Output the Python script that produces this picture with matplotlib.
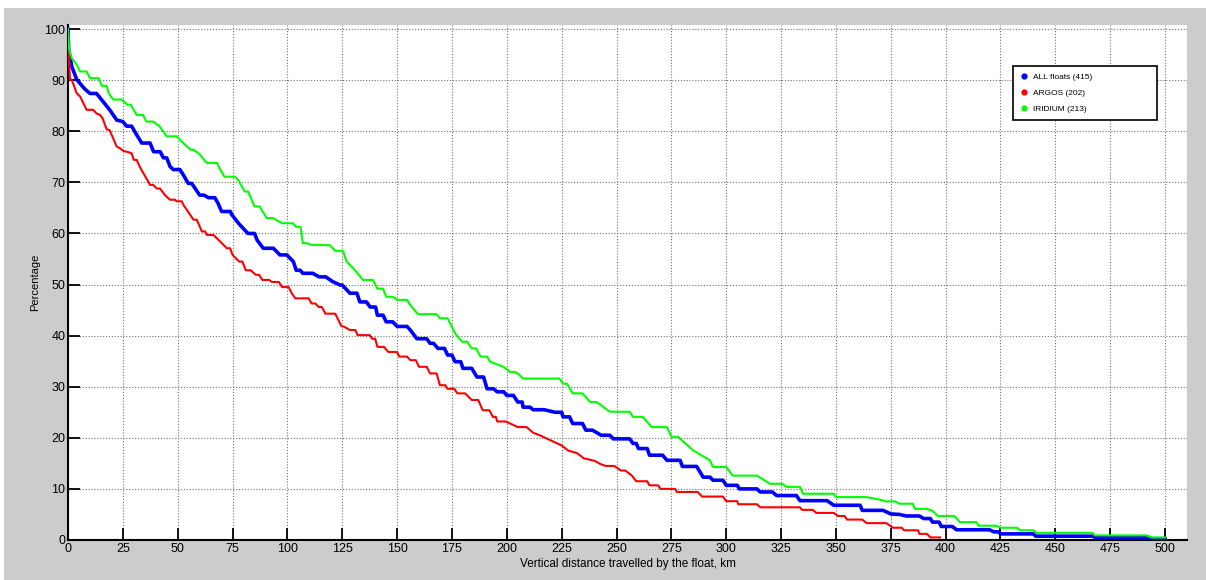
import matplotlib
matplotlib.use("Agg")
import matplotlib.pyplot as plt
from matplotlib.lines import Line2D
from matplotlib.patches import Rectangle

plt.rcParams["font.family"] = ["Liberation Sans", "DejaVu Sans"]

# ALL floats (415)
all_x = [0, 0.3, 1.7, 4, 7.6, 10, 13, 16, 19, 22.2, 25, 26.7, 29, 31.3, 33.6,
         37.4, 39, 42, 43.5, 45, 46.5, 48, 51, 52.5, 54.8, 56.4, 60, 62, 64,
         66.9, 68.4, 70, 74, 74.6, 77.7, 82, 85, 86.2, 89, 93.6, 96.6, 99.7,
         102.7, 104, 105.8, 107, 111.5, 114.5, 117.5, 120.5, 124, 125, 128.5,
         131.7, 133, 136, 137.7, 140.2, 141, 143.6, 145, 148, 150, 154.5, 156,
         159, 163.5, 165, 166.6, 168.6, 171.6, 173, 175, 176.4, 179, 180, 184,
         186.4, 189.4, 191, 194, 195.6, 198.6, 200, 203, 205, 207, 207.4,
         210.6, 212, 217, 222, 225, 225.6, 228.6, 230, 234.5, 236, 239, 243,
         247, 248.5, 256, 257.5, 259, 260, 264, 265, 271, 273, 279, 280, 286.5,
         289.5, 292.6, 294, 298.5, 300, 305, 306, 314, 315.5, 321, 323, 332,
         333.6, 346, 349, 361, 362, 371.5, 375, 379, 382, 388, 390, 393, 394,
         397, 398, 403, 405, 420, 422, 424, 425, 440, 441, 467, 468, 493, 494,
         500]
all_y = [100, 96, 92.7, 90.1, 88.3, 87.4, 87.4, 85.8, 84.2, 82.2, 81.9, 81.0,
         81.0, 79.3, 77.7, 77.7, 76.0, 76.0, 74.8, 74.8, 73.1, 72.5, 72.5,
         71.5, 69.8, 69.8, 67.5, 67.5, 67.0, 67.0, 65.9, 64.3, 64.3, 63.7,
         62.0, 60.0, 60.0, 58.7, 57.1, 57.1, 55.8, 55.8, 54.5, 52.8, 52.8,
         52.2, 52.2, 51.5, 51.5, 50.6, 49.9, 49.9, 48.3, 48.3, 46.6, 46.6,
         45.6, 45.6, 44.0, 44.0, 42.7, 42.7, 41.8, 41.8, 41.1, 39.4, 39.4,
         38.5, 38.5, 37.5, 37.5, 36.2, 36.2, 34.9, 34.9, 33.6, 33.6, 31.9,
         31.9, 29.6, 29.6, 29.0, 29.0, 28.3, 28.3, 27.0, 27.0, 26.0, 26.0,
         25.5, 25.5, 25.0, 25.0, 24.1, 24.1, 22.8, 22.8, 21.5, 21.5, 20.5,
         20.5, 19.8, 19.8, 18.9, 18.9, 17.9, 17.9, 16.6, 16.6, 15.6, 15.6,
         14.4, 14.4, 12.3, 12.3, 11.7, 11.7, 10.7, 10.7, 10.0, 10.0, 9.4, 9.4,
         8.7, 8.7, 7.7, 7.7, 6.8, 6.8, 5.8, 5.8, 5.1, 5.0, 4.7, 4.7, 4.2, 4.2,
         3.5, 3.5, 2.65, 2.65, 2.0, 2.0, 1.6, 1.6, 1.2, 1.2, 0.75, 0.75, 0.5,
         0.5, 0.25, 0.25]

# ARGOS (202)
argos_x = [0, 0.3, 0.9, 1.7, 3.9, 5.5, 7, 8.5, 11.5, 13, 14.6, 15.8, 17.6, 19,
           21.3, 22.2, 23.6, 25, 26.7, 29, 30, 31.3, 33, 35.3, 37.4, 38.9,
           40.4, 41.9, 44.2, 46.5, 48.8, 49.5, 51.8, 52.6, 55.6, 57.2, 58.7,
           61, 62.5, 63.3, 66.3, 69.4, 72.4, 73.9, 75, 78, 79.5, 81, 83.2,
           85.6, 87.1, 88.6, 91.6, 93.1, 96.1, 97.6, 100.6, 102.1, 103.6,
           109.7, 111, 112.7, 114.3, 115.7, 117.3, 121.8, 123.3, 124.5, 126,
           128.5, 131, 132, 137.5, 138.6, 140, 141, 144, 146, 150, 151, 154.5,
           156, 158.5, 160, 163.5, 165, 168, 169.5, 172, 173, 176, 177.5, 181,
           184, 187, 189, 192, 193.7, 195, 195.6, 199.5, 205, 209, 212, 215,
           220, 225, 228, 232, 235, 240, 242.5, 245, 249, 252, 254, 257, 259,
           264, 265, 269, 270, 276.7, 277.5, 287, 289, 298.5, 300, 305, 305.5,
           314, 315.5, 333.6, 334.5, 339.5, 341, 349, 351, 354, 355, 362, 364,
           373, 376, 380, 381, 387.5, 388, 391.5, 393, 397.5]
argos_y = [100, 95, 90.1, 90.1, 87.5, 86.8, 85.5, 84.2, 84.2, 83.5, 83.2,
           82.5, 80.4, 80.2, 77.9, 77.0, 76.7, 76.2, 76.0, 75.7, 74.4, 74.4,
           72.8, 71.1, 69.5, 69.5, 68.8, 68.8, 67.5, 66.6, 66.6, 66.3, 66.3,
           65.6, 63.7, 62.7, 62.7, 60.4, 60.4, 59.7, 59.7, 58.4, 57.1, 57.1,
           55.8, 54.5, 54.5, 52.8, 52.8, 51.9, 51.9, 50.9, 50.9, 50.5, 50.5,
           49.5, 49.5, 48.2, 47.3, 47.3, 46.3, 46.3, 45.6, 45.6, 44.3, 44.3,
           43.0, 41.9, 41.7, 41.1, 41.1, 40.1, 40.1, 39.4, 39.4, 37.8, 37.8,
           36.8, 36.8, 35.9, 35.9, 35.2, 35.2, 33.9, 33.9, 32.6, 32.6, 30.3,
           30.3, 29.6, 29.6, 28.7, 28.7, 27.4, 27.4, 25.4, 25.4, 24.1, 24.1,
           23.2, 23.2, 22.1, 22.1, 21.0, 20.5, 19.5, 18.5, 17.5, 17.0, 16.0,
           15.5, 14.9, 14.5, 14.5, 13.6, 13.6, 12.6, 11.5, 11.5, 10.7, 10.7,
           10.0, 10.0, 9.4, 9.4, 8.5, 8.5, 7.6, 7.6, 7.0, 7.0, 6.4, 6.4, 5.9,
           5.9, 5.3, 5.3, 4.7, 4.7, 4.0, 4.0, 3.3, 3.3, 2.4, 2.4, 1.9, 1.9,
           1.2, 1.2, 0.5, 0.5]

# IRIDIUM (213)
iridium_x = [0, 0.5, 1.7, 4, 5.5, 8.5, 10, 14, 15.4, 17.6, 18.5, 20.6, 24.6,
             27, 28.6, 31.3, 34.2, 35.7, 38.8, 41.7, 45, 49.6, 51.6, 55.8,
             57.3, 60, 63.2, 68, 69, 71.3, 76, 77.5, 80.6, 82.1, 85, 87.3,
             90.6, 93.6, 97.5, 102.5, 104, 106, 107, 109, 110.5, 119.4, 121.7,
             125.3, 127, 130, 134.5, 139, 141, 143.6, 145, 148, 150, 154.5,
             156, 159.5, 168, 169.5, 173, 175, 176.5, 179.6, 182, 184, 186,
             188, 191, 192.4, 195.5, 198.5, 201.5, 203.7, 205, 207.4, 224,
             225.6, 227.4, 230, 234.5, 238, 241, 245, 247, 256, 257.5, 262,
             266, 273, 275, 278, 285, 292.6, 294, 300, 303, 314, 320, 325.5,
             327.5, 333.6, 335, 349, 350, 364, 370, 373, 377, 379, 385, 386,
             391.5, 394, 396.5, 404, 406.5, 414, 415, 423, 425, 432.5, 434,
             440, 441.5, 467, 468, 491.5, 494, 500]
iridium_y = [100, 96, 94.3, 93, 91.7, 91.7, 90.4, 90.4, 88.9, 88.9, 87.5,
             86.2, 86.2, 85.2, 85.2, 83.2, 83.2, 81.9, 81.9, 81.0, 79.0, 79.0,
             78.1, 76.4, 76.4, 75.5, 73.8, 73.8, 72.8, 71.1, 71.1, 70.5, 68.2,
             68.2, 65.3, 65.3, 63.0, 63.0, 62.0, 62.0, 61.3, 61.3, 58.1, 58.1,
             57.8, 57.7, 56.6, 56.6, 54.5, 53.2, 50.9, 50.9, 49.2, 49.2, 47.6,
             47.6, 47.0, 47.0, 46.0, 44.2, 44.2, 43.4, 43.4, 41.7, 40.4, 38.8,
             38.8, 37.5, 37.5, 35.9, 35.9, 34.9, 34.4, 33.9, 32.9, 32.9, 32.6,
             31.6, 31.6, 30.6, 30.6, 28.7, 28.7, 27.0, 27.0, 25.7, 25.1, 25.1,
             24.1, 24.1, 22.1, 22.1, 20.2, 20.2, 17.5, 15.6, 14.3, 14.3, 12.6,
             12.6, 11.0, 11.0, 10.4, 10.4, 9.05, 9.05, 8.4, 8.4, 7.9, 7.55,
             7.55, 7.1, 7.1, 6.1, 6.1, 5.7, 4.7, 4.7, 3.5, 3.5, 2.8, 2.8, 2.4,
             2.4, 1.9, 1.9, 1.4, 1.4, 0.9, 0.9, 0.5, 0.5]

series_labels = ["ALL floats (415)", "ARGOS (202)", "IRIDIUM (213)"]
series_colors = ["#0000ff", "#ff0000", "#00ff00"]
x_ticks = list(range(0, 501, 25))
y_ticks = list(range(0, 101, 10))


def main():
    fig = plt.figure(figsize=(12.06, 5.8), dpi=100, facecolor="white")
    # grey window background (screenshot leaves a thin white rim top/left)
    fig.patches.append(Rectangle((4 / 1206, 0), 1, 572 / 580,
                                 transform=fig.transFigure,
                                 facecolor="#cccccc", edgecolor="none",
                                 zorder=-10))
    ax = fig.add_axes([68 / 1206, 40 / 580, 1119 / 1206, 515 / 580])

    ax.plot(all_x, all_y, color=series_colors[0], lw=2.6, zorder=3)
    ax.plot(argos_x, argos_y, color=series_colors[1], lw=1.5, zorder=3)
    ax.plot(iridium_x, iridium_y, color=series_colors[2], lw=1.5, zorder=3)

    ax.set_xlim(0, 510)
    ax.set_ylim(0, 100.8)
    ax.set_xticks(x_ticks)
    ax.set_yticks(y_ticks)
    ax.grid(True, linestyle=(0, (1, 1.6)), color="#707070", lw=0.8)
    ax.set_axisbelow(True)

    for side in ["top", "right"]:
        ax.spines[side].set_visible(False)
    for side in ["left", "bottom"]:
        ax.spines[side].set_linewidth(1.5)
    ax.tick_params(direction="in", length=8.5, width=1.3, labelsize=9,
                   colors="black", pad=2)

    ax.set_xlabel("Vertical distance travelled by the float, km",
                  fontsize=8.5, labelpad=2)
    ax.set_ylabel("Percentage", fontsize=8)
    ax.yaxis.set_label_coords(-0.025, 0.5)

    handles = [Line2D([], [], marker="o", ls="none", color=c, markersize=3.5)
               for c in series_colors]
    leg = ax.legend(handles, series_labels, loc="upper left",
                    bbox_to_anchor=(0.8445, 0.8097, 0.1287, 0.110),
                    mode="expand", borderaxespad=0, fontsize=6,
                    fancybox=False, framealpha=1, edgecolor="black",
                    handlelength=1.0, handletextpad=0.6, labelspacing=1.0,
                    borderpad=0.8)
    leg.get_frame().set_linewidth(1.2)

    fig.savefig("out.png", dpi=100, facecolor=fig.get_facecolor())


if __name__ == "__main__":
    main()
